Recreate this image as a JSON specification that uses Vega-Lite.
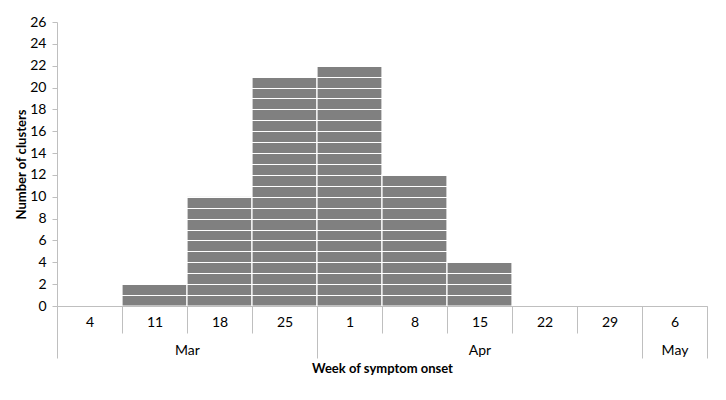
{
  "$schema": "https://vega.github.io/schema/vega-lite/v6.json",
  "width": 650,
  "height": 284,
  "autosize": {"type": "none"},
  "padding": {"left": 57, "top": 22, "right": 19, "bottom": 94},
  "background": "white",
  "config": {
    "view": {"stroke": null},
    "font": "Lato",
    "axis": {
      "labelFont": "Lato",
      "titleFont": "Lato",
      "labelColor": "#000000",
      "titleColor": "#000000",
      "labelFontSize": 14,
      "titleFontSize": 13,
      "titleFontWeight": "bold",
      "domainColor": "#bfbfbf",
      "tickColor": "#bfbfbf",
      "labelFlush": false,
      "labelOverlap": false
    }
  },
  "data": {
    "values": [
      {"week": "4", "month": "Mar", "week_start": "2013-03-04", "week_end": "2013-03-11", "clusters": 0},
      {"week": "11", "month": "Mar", "week_start": "2013-03-11", "week_end": "2013-03-18", "clusters": 2},
      {"week": "18", "month": "Mar", "week_start": "2013-03-18", "week_end": "2013-03-25", "clusters": 10},
      {"week": "25", "month": "Mar", "week_start": "2013-03-25", "week_end": "2013-04-01", "clusters": 21},
      {"week": "1", "month": "Apr", "week_start": "2013-04-01", "week_end": "2013-04-08", "clusters": 22},
      {"week": "8", "month": "Apr", "week_start": "2013-04-08", "week_end": "2013-04-15", "clusters": 12},
      {"week": "15", "month": "Apr", "week_start": "2013-04-15", "week_end": "2013-04-22", "clusters": 4},
      {"week": "22", "month": "Apr", "week_start": "2013-04-22", "week_end": "2013-04-29", "clusters": 0},
      {"week": "29", "month": "Apr", "week_start": "2013-04-29", "week_end": "2013-05-06", "clusters": 0},
      {"week": "6", "month": "May", "week_start": "2013-05-06", "week_end": "2013-05-13", "clusters": 0}
    ]
  },
  "layer": [
    {
      "transform": [{"filter": "datum.clusters > 0"}],
      "mark": {"type": "bar", "color": "#808080", "stroke": "white", "strokeWidth": 1.2},
      "encoding": {
        "x": {
          "field": "week_start",
          "type": "temporal",
          "scale": {
            "type": "utc",
            "nice": false,
            "domain": [
              {"year": 2013, "month": 3, "date": 4, "utc": true},
              {"year": 2013, "month": 5, "date": 13, "utc": true}
            ]
          },
          "axis": {
            "orient": "bottom",
            "values": [
              {"year": 2013, "month": 3, "date": 4, "utc": true},
              {"year": 2013, "month": 3, "date": 11, "utc": true},
              {"year": 2013, "month": 3, "date": 18, "utc": true},
              {"year": 2013, "month": 3, "date": 25, "utc": true},
              {"year": 2013, "month": 4, "date": 1, "utc": true},
              {"year": 2013, "month": 4, "date": 8, "utc": true},
              {"year": 2013, "month": 4, "date": 15, "utc": true},
              {"year": 2013, "month": 4, "date": 22, "utc": true},
              {"year": 2013, "month": 4, "date": 29, "utc": true},
              {"year": 2013, "month": 5, "date": 6, "utc": true},
              {"year": 2013, "month": 5, "date": 13, "utc": true}
            ],
            "labels": false,
            "tickSize": 27,
            "grid": false,
            "title": null,
            "zindex": 1
          }
        },
        "x2": {"field": "week_end"},
        "y": {
          "field": "clusters",
          "type": "quantitative",
          "scale": {"domain": [0, 26], "nice": false, "zero": true},
          "axis": {
            "orient": "left",
            "values": [0, 2, 4, 6, 8, 10, 12, 14, 16, 18, 20, 22, 24, 26],
            "tickSize": 5,
            "labelPadding": 6,
            "grid": false,
            "title": "Number of clusters",
            "titlePadding": 1,
            "zindex": 2
          }
        },
        "y2": {"datum": 0}
      }
    },
    {
      "mark": {"type": "rule", "opacity": 0},
      "encoding": {
        "x": {
          "field": "week_start",
          "type": "temporal",
          "scale": {"type": "utc", "nice": false},
          "axis": {
            "orient": "bottom",
            "values": [
              {"year": 2013, "month": 3, "date": 7, "hours": 12, "utc": true},
              {"year": 2013, "month": 3, "date": 14, "hours": 12, "utc": true},
              {"year": 2013, "month": 3, "date": 21, "hours": 12, "utc": true},
              {"year": 2013, "month": 3, "date": 28, "hours": 12, "utc": true},
              {"year": 2013, "month": 4, "date": 4, "hours": 12, "utc": true},
              {"year": 2013, "month": 4, "date": 11, "hours": 12, "utc": true},
              {"year": 2013, "month": 4, "date": 18, "hours": 12, "utc": true},
              {"year": 2013, "month": 4, "date": 25, "hours": 12, "utc": true},
              {"year": 2013, "month": 5, "date": 2, "hours": 12, "utc": true},
              {"year": 2013, "month": 5, "date": 9, "hours": 12, "utc": true}
            ],
            "labelExpr": "utcFormat(datum.value - 302400000, '%-d')",
            "ticks": false,
            "tickSize": 0,
            "domain": false,
            "grid": false,
            "labelPadding": 9,
            "title": null
          }
        }
      }
    },
    {
      "mark": {"type": "rule", "opacity": 0},
      "encoding": {
        "x": {
          "field": "week_start",
          "type": "temporal",
          "scale": {"type": "utc", "nice": false},
          "axis": {
            "orient": "bottom",
            "values": [
              {"year": 2013, "month": 3, "date": 4, "utc": true},
              {"year": 2013, "month": 4, "date": 1, "utc": true},
              {"year": 2013, "month": 5, "date": 6, "utc": true},
              {"year": 2013, "month": 5, "date": 13, "utc": true}
            ],
            "labels": false,
            "tickSize": 52,
            "domain": false,
            "grid": false,
            "title": null
          }
        }
      }
    },
    {
      "mark": {"type": "rule", "opacity": 0},
      "encoding": {
        "x": {
          "field": "week_start",
          "type": "temporal",
          "scale": {"type": "utc", "nice": false},
          "axis": {
            "orient": "bottom",
            "values": [
              {"year": 2013, "month": 3, "date": 18, "utc": true},
              {"year": 2013, "month": 4, "date": 18, "hours": 12, "utc": true},
              {"year": 2013, "month": 5, "date": 9, "hours": 12, "utc": true}
            ],
            "labelExpr": "utcFormat(datum.value, '%b')",
            "ticks": false,
            "tickSize": 0,
            "domain": false,
            "grid": false,
            "labelPadding": 37,
            "title": "Week of symptom onset",
            "titlePadding": 5
          }
        }
      }
    },
    {
      "mark": {"type": "rule", "opacity": 0},
      "encoding": {
        "y": {
          "field": "clusters",
          "type": "quantitative",
          "axis": {
            "orient": "left",
            "values": [1, 2, 3, 4, 5, 6, 7, 8, 9, 10, 11, 12, 13, 14, 15, 16, 17, 18, 19, 20, 21, 22, 23, 24, 25],
            "grid": true,
            "gridColor": "white",
            "gridWidth": 1.2,
            "labels": false,
            "ticks": false,
            "domain": false,
            "title": null,
            "zindex": 1
          }
        }
      }
    }
  ],
  "resolve": {"axis": {"x": "independent", "y": "independent"}}
}
